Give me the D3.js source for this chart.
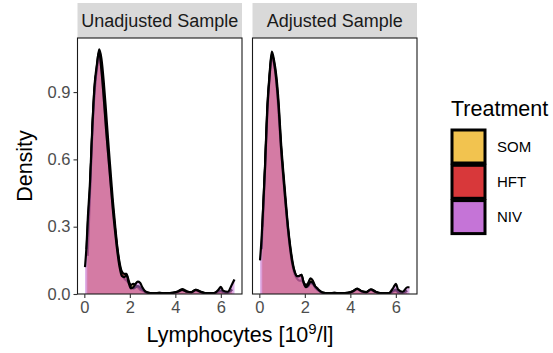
<!DOCTYPE html>
<html>
<head>
<meta charset="utf-8">
<script src="https://cdn.jsdelivr.net/npm/d3@7.9.0/dist/d3.min.js"></script>
<style>
  body { margin: 0; background: #fff; }
  text { font-family: "Liberation Sans", Arial, sans-serif; }
</style>
</head>
<body>
<svg id="chart" width="553" height="353"></svg>
<script>
const panels = ["Unadjusted Sample", "Adjusted Sample"];
const treatments = ["SOM", "HFT", "NIV"];
const colors = ["#F2C34F", "#D8383A", "#C574D7"];
const xTicks = [0, 2, 4, 6];
const yTicks = [0.0, 0.3, 0.6, 0.9];

const xGrid = [0.03, 0.1, 0.15, 0.25, 0.35, 0.45, 0.55, 0.65, 0.75, 0.85, 0.95, 1.05, 1.15, 1.25,
  1.35, 1.45, 1.55, 1.65, 1.75, 1.85, 1.95, 2.05, 2.15, 2.25, 2.35, 2.45, 2.55, 2.65, 2.75,
  2.9, 3.1, 3.3, 3.5, 3.7, 3.9, 4.1, 4.3, 4.5, 4.7, 4.9, 5.1, 5.3, 5.5, 5.7, 5.9, 6.0, 6.1, 6.3, 6.5, 6.6];

// unadjusted sample densities
const somUnadj = [null, null, 0.17, 0.45, 0.73, 0.92, 1.0, 1.06, 1.0, 0.88, 0.75, 0.62, 0.5, 0.39,
  0.29, 0.2, 0.13, 0.09, 0.07, 0.06, 0.05, 0.04, 0.045, 0.04, 0.03, 0.02, 0.015, 0.01, 0.006,
  0.004, 0.003, 0.004, 0.003, 0.004, 0.005, 0.009, 0.017, 0.01, 0.007, 0.015, 0.009, 0.004, 0.003, 0.003, 0.01, 0.012, 0.008, 0.005, null, null];
const hftUnadj = [null, 0.2, 0.3, 0.47, 0.72, 0.9, 1.01, 1.09, 1.05, 0.95, 0.82, 0.68, 0.55, 0.42,
  0.31, 0.21, 0.14, 0.1, 0.09, 0.09, 0.06, 0.03, 0.025, 0.03, 0.035, 0.03, 0.02, 0.012, 0.007,
  0.004, 0.003, 0.005, 0.003, 0.004, 0.005, 0.011, 0.022, 0.012, 0.008, 0.019, 0.011, 0.004, 0.003, 0.004, 0.012, 0.015, 0.01, 0.006, 0.02, null];
const nivUnadj = [0.12, 0.22, 0.33, 0.5, 0.74, 0.93, 1.02, 1.08, 1.0, 0.88, 0.74, 0.62, 0.5, 0.38,
  0.28, 0.19, 0.12, 0.08, 0.075, 0.085, 0.05, 0.025, 0.03, 0.045, 0.055, 0.05, 0.03, 0.015, 0.008,
  0.004, 0.003, 0.005, 0.003, 0.004, 0.005, 0.01, 0.018, 0.01, 0.008, 0.018, 0.01, 0.004, 0.003, 0.004, 0.02, 0.032, 0.015, 0.01, 0.045, 0.065];

// adjusted sample densities
const somAdj = [null, null, 0.3, 0.55, 0.8, 0.96, 1.05, 1.02, 0.94, 0.8, 0.65, 0.52, 0.4, 0.29,
  0.2, 0.13, 0.09, 0.07, 0.06, 0.06, 0.05, 0.04, 0.05, 0.07, 0.06, 0.035, 0.02, 0.012, 0.007,
  0.004, 0.003, 0.004, 0.003, 0.004, 0.005, 0.01, 0.02, 0.01, 0.007, 0.017, 0.009, 0.004, 0.003, 0.003, 0.012, 0.015, 0.008, 0.005, null, null];
const hftAdj = [null, 0.2, 0.34, 0.57, 0.83, 0.98, 1.08, 1.04, 0.97, 0.85, 0.68, 0.55, 0.43, 0.31,
  0.22, 0.15, 0.1, 0.08, 0.08, 0.085, 0.05, 0.03, 0.035, 0.05, 0.045, 0.03, 0.02, 0.012, 0.007,
  0.004, 0.003, 0.005, 0.003, 0.004, 0.005, 0.012, 0.024, 0.012, 0.008, 0.021, 0.011, 0.004, 0.003, 0.004, 0.015, 0.02, 0.01, 0.006, 0.015, null];
const nivAdj = [0.15, 0.25, 0.35, 0.56, 0.82, 0.97, 1.07, 1.03, 0.95, 0.83, 0.66, 0.53, 0.41, 0.3,
  0.21, 0.14, 0.1, 0.08, 0.08, 0.085, 0.05, 0.03, 0.04, 0.055, 0.05, 0.035, 0.025, 0.015, 0.008,
  0.004, 0.003, 0.005, 0.003, 0.004, 0.005, 0.011, 0.023, 0.012, 0.008, 0.02, 0.01, 0.004, 0.003, 0.004, 0.03, 0.045, 0.02, 0.01, 0.03, 0.03];

const panelData = [
  [somUnadj, hftUnadj, nivUnadj],
  [somAdj, hftAdj, nivAdj]
];

const svg = d3.select("#chart");

const panelLefts = [77.5, 252.5];
const panelW = 164.5;
const panelTop = 38, panelBottom = 294, stripTop = 3;

const y = d3.scaleLinear().domain([0, 1.141]).range([panelBottom, panelTop]);

panels.forEach((name, p) => {
  const x = d3.scaleLinear().domain([-0.3, 6.93]).range([panelLefts[p], panelLefts[p] + panelW]);
  const g = svg.append("g");

  // strip
  g.append("rect")
    .attr("x", panelLefts[p]).attr("y", stripTop)
    .attr("width", panelW).attr("height", panelTop - stripTop)
    .attr("fill", "#D9D9D9");
  g.append("text")
    .attr("x", panelLefts[p] + panelW / 2).attr("y", 27)
    .attr("text-anchor", "middle")
    .attr("font-size", 18)
    .attr("fill", "#1A1A1A")
    .text(name);

  const area = d3.area()
    .defined(d => d[1] != null)
    .x(d => x(d[0]))
    .y0(y(0))
    .y1(d => y(d[1]))
    .curve(d3.curveMonotoneX);
  const line = d3.line()
    .defined(d => d[1] != null)
    .x(d => x(d[0]))
    .y(d => y(d[1]))
    .curve(d3.curveMonotoneX);

  const clip = "clip" + p;
  svg.append("clipPath").attr("id", clip)
    .append("rect")
    .attr("x", panelLefts[p]).attr("y", panelTop)
    .attr("width", panelW).attr("height", panelBottom - panelTop);

  const plot = g.append("g").attr("clip-path", `url(#${clip})`);

  panelData[p].forEach((vals, i) => {
    const pts = xGrid.map((xv, k) => [xv, vals[k]]);
    plot.append("path")
      .attr("d", area(pts))
      .attr("fill", colors[i])
      .attr("fill-opacity", 0.55);
    plot.append("path")
      .attr("d", line(pts))
      .attr("fill", "none")
      .attr("stroke", "#000")
      .attr("stroke-width", 2.2)
      .attr("stroke-linejoin", "round");
  });

  // panel border
  g.append("rect")
    .attr("x", panelLefts[p]).attr("y", panelTop)
    .attr("width", panelW).attr("height", panelBottom - panelTop)
    .attr("fill", "none")
    .attr("stroke", "#1A1A1A")
    .attr("stroke-width", 1.1);

  // x axis
  const xAxis = d3.axisBottom(x).tickValues(xTicks).tickFormat(d3.format("d")).tickSize(4).tickPadding(3);
  const xa = g.append("g").attr("transform", `translate(0,${panelBottom})`).call(xAxis);
  xa.select(".domain").remove();
  xa.selectAll("line").attr("stroke", "#333").attr("stroke-width", 1.1);
  xa.selectAll("text").attr("font-size", 16.5).attr("fill", "#4D4D4D")
    .attr("font-family", "Liberation Sans, Arial, sans-serif");
});

// y axis, left panel only
const yAxis = d3.axisLeft(y).tickValues(yTicks).tickFormat(d3.format(".1f")).tickSize(4).tickPadding(3);
const ya = svg.append("g").attr("transform", `translate(${panelLefts[0]},0)`).call(yAxis);
ya.select(".domain").remove();
ya.selectAll("line").attr("stroke", "#333").attr("stroke-width", 1.1);
ya.selectAll("text").attr("font-size", 16.5).attr("fill", "#4D4D4D")
  .attr("font-family", "Liberation Sans, Arial, sans-serif");

// axis titles
const xt = svg.append("text")
  .attr("x", 240).attr("y", 342)
  .attr("text-anchor", "middle")
  .attr("font-size", 21.5)
  .attr("fill", "#000");
xt.append("tspan").text("Lymphocytes [10");
xt.append("tspan").attr("dy", -8).attr("font-size", 15).text("9");
xt.append("tspan").attr("dy", 8).text("/l]");

svg.append("text")
  .attr("transform", `translate(32,${(panelTop + panelBottom) / 2}) rotate(-90)`)
  .attr("text-anchor", "middle")
  .attr("font-size", 21.5)
  .attr("fill", "#000")
  .text("Density");

// legend
const legend = svg.append("g");
legend.append("text")
  .attr("x", 451).attr("y", 116)
  .attr("font-size", 21.5)
  .attr("fill", "#000")
  .text("Treatment");

treatments.forEach((t, i) => {
  const ky = 130 + i * 35.3;
  legend.append("rect")
    .attr("x", 452).attr("y", ky)
    .attr("width", 33).attr("height", 33)
    .attr("fill", colors[i])
    .attr("stroke", "#000")
    .attr("stroke-width", 3);
  legend.append("text")
    .attr("x", 497).attr("y", ky + 16.5)
    .attr("dy", "0.35em")
    .attr("font-size", 15)
    .attr("fill", "#000")
    .text(t);
});
</script>
</body>
</html>
